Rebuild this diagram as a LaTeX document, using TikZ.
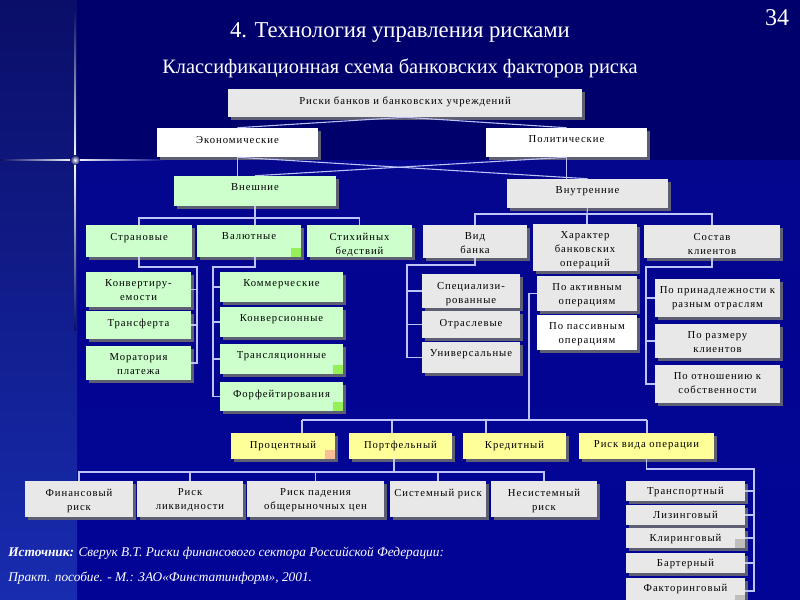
\documentclass[tikz,border=0pt]{standalone}
\usepackage{fontspec}
\setmainfont{Liberation Serif}
\newfontfamily\boxfont[LetterSpace=9]{Liberation Serif}
\usetikzlibrary{calc,fit,shadows}
\definecolor{fonTop}  {RGB}{0,  0,108}
\definecolor{fonLow}  {RGB}{4,  6,142}
\definecolor{fonLowB} {RGB}{2,  4,150}
\definecolor{fonLeft} {RGB}{10, 14,104}
\definecolor{fonLeftB}{RGB}{24, 44,176}
\definecolor{boxGray} {RGB}{232,232,232}
\definecolor{boxGreen}{RGB}{204,255,204}
\definecolor{boxYell} {RGB}{255,255,153}
\definecolor{lnkCol}  {RGB}{190,196,250}
\definecolor{shadCol} {RGB}{95, 95,115}
\definecolor{sqGreen} {RGB}{150,240, 90}
\definecolor{sqSalmon}{RGB}{250,190,150}
\definecolor{sqGray}  {RGB}{190,190,190}

\begin{document}
\begin{tikzpicture}[x=0.75pt, y=-0.75pt,
  box/.style={fill=boxGray, inner sep=0pt,
    drop shadow={shadow xshift=2.2pt, shadow yshift=-2.2pt, fill=shadCol, opacity=1}},
  gbox/.style={box, fill=boxGreen},
  wbox/.style={box, fill=white},
  ybox/.style={box, fill=boxYell},
  lbl/.style={anchor=north, yshift=-6pt, inner sep=0pt, align=center, text=black,
    font=\boxfont\fontsize{8}{10.5}\selectfont},
  sq/.style={inner sep=0pt, minimum width=7.5pt, minimum height=6.8pt, anchor=south east},
  lnk/.style={draw=lnkCol, line width=0.8pt},
  src/.style={white, anchor=west, inner sep=0pt, font=\itshape\fontsize{10}{12}\selectfont}]
\useasboundingbox (0,0) rectangle (800,600);
\clip (0,0) rectangle (800,600);
% background and flare
\shade[top color=fonLow, bottom color=fonLowB] (0,160) rectangle (800,600);
\fill[fonTop] (0,0) rectangle (800,160);
\shade[top color=fonLeft, bottom color=fonLeftB] (0,0) rectangle (77,600);
\shade[left color=fonLeft, right color=white] (0,159.2) rectangle (75,160.8);
\shade[left color=white, right color=fonLow] (75,159.2) rectangle (165,160.8);
\shade[top color=fonLeft, bottom color=white] (74.2,10) rectangle (75.8,160);
\shade[top color=white, bottom color=fonLeft] (74.2,160) rectangle (75.8,330);
\shade[inner color=white, outer color=fonLeft] (75,160) circle (5);

% titles
\node[white, font=\fontsize{17}{20}\selectfont] (title) at (400,32) {4. Технология управления рисками};
\node[white, font=\fontsize{15.3}{18}\selectfont] (subtitle) at (400,68) {Классификационная схема банковских факторов риска};
\node[white, font=\fontsize{18}{20}\selectfont] (page) at (777,18) {34};

% levels 1-2
\node[box,  fit={(228,89) (582,117)}, label={[lbl]north:Риски банков и банковских учреждений}] (root) {};
\node[wbox, fit={(157,128) (318,157)}, label={[lbl]north:Экономические}] (econ) {};
\node[wbox, fit={(486,128) (647,157)}, label={[lbl]north:Политические}] (polit) {};
\node[gbox, fit={(174,176) (336,206)}, label={[lbl]north:Внешние}] (vnesh) {};
\node[box,  fit={(507,179) (668,208)}, label={[lbl]north:Внутренние}] (vnutr) {};

% external factors
\node[gbox, fit={(86,225) (192,257)}, label={[lbl]north:Страновые}] (stran) {};
\node[gbox, fit={(197,225) (301,257)}, label={[lbl]north:Валютные}] (valut) {};
\node[gbox, fit={(307,225) (412,257)}, label={[lbl]north:Стихийных\\бедствий}] (stih) {};
\node[gbox, fit={(86,272) (191,307)}, label={[lbl]north:Конвертиру-\\емости}] (konv) {};
\node[gbox, fit={(86,311) (191,339)}, label={[lbl]north:Трансферта}] (transf) {};
\node[gbox, fit={(86,346) (191,380)}, label={[lbl]north:Моратория\\платежа}] (morat) {};
\node[gbox, fit={(220,272) (343,302)}, label={[lbl]north:Коммерческие}] (komm) {};
\node[gbox, fit={(220,307) (343,337)}, label={[lbl]north:Конверсионные}] (konvers) {};
\node[gbox, fit={(220,344) (343,374)}, label={[lbl]north:Трансляционные}] (transl) {};
\node[gbox, fit={(220,382) (343,411)}, label={[lbl]north:Форфейтирования}] (forf) {};

% internal factors
\node[box, fit={(423,225) (527,258)}, label={[lbl]north:Вид\\банка}] (vid) {};
\node[box, fit={(533,224) (637,271)}, label={[lbl]north:Характер\\банковских\\операций}] (xar) {};
\node[box, fit={(644,225) (780,258)}, label={[lbl]north:Состав\\клиентов}] (sostav) {};
\node[box, fit={(422,274) (520,308)}, label={[lbl]north:Специализи-\\рованные}] (spec) {};
\node[box, fit={(422,311) (520,338)}, label={[lbl]north:Отраслевые}] (otr) {};
\node[box, fit={(422,342) (520,373)}, label={[lbl]north:Универсальные}] (univ) {};
\node[box,  fit={(537,276) (637,311)}, label={[lbl]north:По активным\\операциям}] (aktiv) {};
\node[wbox, fit={(537,315) (637,350)}, label={[lbl]north:По пассивным\\операциям}] (passiv) {};
\node[box, fit={(655,279) (780,317)}, label={[lbl]north:По принадлежности к\\разным отраслям}] (prin) {};
\node[box, fit={(655,324) (780,358)}, label={[lbl]north:По размеру\\клиентов}] (razm) {};
\node[box, fit={(655,365) (780,403)}, label={[lbl]north:По отношению к\\собственности}] (otn) {};

% risk types
\node[ybox, fit={(231,433) (335,459)}, label={[lbl]north:Процентный}] (proc) {};
\node[ybox, fit={(349,433) (452,459)}, label={[lbl]north:Портфельный}] (port) {};
\node[ybox, fit={(463,433) (566,459)}, label={[lbl]north:Кредитный}] (kred) {};
\node[ybox, fit={(579,433) (714,459)}, label={[lbl]north:Риск вида операции}] (vida) {};
\node[box, fit={(25,481) (133,517)}, label={[lbl]north:Финансовый\\риск}] (fin) {};
\node[box, fit={(137,481) (243,517)}, label={[lbl]north:Риск\\ликвидности}] (likv) {};
\node[box, fit={(247,481) (384,517)}, label={[lbl]north:Риск падения\\общерыночных цен}] (pad) {};
\node[box, fit={(390,481) (486,517)}, label={[lbl]north:Системный риск}] (sist) {};
\node[box, fit={(491,481) (597,517)}, label={[lbl]north:Несистемный\\риск}] (nesist) {};
\node[box, fit={(626,481) (745,501)}, label={[lbl,yshift=1.5pt]north:Транспортный}] (transp) {};
\node[box, fit={(626,505) (745,525)}, label={[lbl,yshift=1.5pt]north:Лизинговый}] (lizing) {};
\node[box, fit={(626,528) (745,548)}, label={[lbl,yshift=1.5pt]north:Клиринговый}] (kliring) {};
\node[box, fit={(626,553) (745,573)}, label={[lbl,yshift=1.5pt]north:Бартерный}] (barter) {};
\node[box, fit={(626,578) (745,604)}, label={[lbl,yshift=1.5pt]north:Факторинговый}] (faktor) {};

% small corner squares
\node[sq, fill=sqGreen] (valut-sq) at (valut.south east) {};
\node[sq, fill=sqGreen] (transl-sq) at (transl.south east) {};
\node[sq, fill=sqGreen] (forf-sq) at (forf.south east) {};
\node[sq, fill=sqSalmon] (proc-sq) at (proc.south east) {};
\node[sq, fill=sqGray] (kliring-sq) at (kliring.south east) {};
\node[sq, fill=sqGray] (faktor-sq) at (faktor.south east) {};

% bus points
\coordinate (vbus) at (255,218);
\coordinate (sbus) at (197,267);
\coordinate (kbus) at (213,267);
\coordinate (ibus) at (587,214);
\coordinate (dbus) at (407,265);
\coordinate (cbus) at (646,267);
\coordinate (lbus) at (529,420);
\coordinate (lb1) at (302,420);
\coordinate (lb2) at (392,420);
\coordinate (lb3) at (486,420);
\coordinate (lb4) at (647,420);
\coordinate (pbus) at (394,472);
\coordinate (obus) at (754,469);

% connectors
\draw[lnk] (root.south) -- (econ.north);
\draw[lnk] (root.south) -- (polit.north);
\draw[lnk] (econ.south) -- (econ.south |- vnesh.north);
\draw[lnk] (polit.south) -- (polit.south |- vnutr.north);
\draw[lnk] (econ.south) -- (vnutr.north);
\draw[lnk] (polit.south) -- (vnesh.north);

\draw[lnk] (vnesh.south) -- (vbus);
\draw[lnk] (stran.north) |- (vbus) -| (stih.north);
\draw[lnk] (vbus) -- (vbus |- valut.north);
\draw[lnk] (stran.south) |- (sbus) |- (morat.east);
\draw[lnk] (konv.east) -- (konv.east -| sbus);
\draw[lnk] (transf.east) -- (transf.east -| sbus);
\draw[lnk] (valut.south -| vbus) |- (kbus) |- (forf.west);
\draw[lnk] (komm.west) -- (komm.west -| kbus);
\draw[lnk] (konvers.west) -- (konvers.west -| kbus);
\draw[lnk] (transl.west) -- (transl.west -| kbus);

\draw[lnk] (vnutr.south) -- (ibus);
\draw[lnk] (vid.north) |- (ibus) -| (sostav.north);
\draw[lnk] (ibus) -- (ibus |- xar.north);
\draw[lnk] (vid.south) |- (dbus) |- (univ.west);
\draw[lnk] (spec.west) -- (spec.west -| dbus);
\draw[lnk] (otr.west) -- (otr.west -| dbus);
\draw[lnk] (sostav.south) |- (cbus) |- (otn.west);
\draw[lnk] (prin.west) -- (prin.west -| cbus);
\draw[lnk] (razm.west) -- (razm.west -| cbus);

\draw[lnk] (aktiv.west) -| (lbus);
\draw[lnk] (lb1) -- (lb4);
\draw[lnk] (lb1) -- (lb1 |- proc.north);
\draw[lnk] (lb2) -- (lb2 |- port.north);
\draw[lnk] (lb3) -- (lb3 |- kred.north);
\draw[lnk] (lb4) -- (lb4 |- vida.north);

\draw[lnk] (port.south -| pbus) -- (pbus);
\draw[lnk] (fin.north) |- (pbus) -| (nesist.north);
\draw[lnk] (likv.north) -- (likv.north |- pbus);
\draw[lnk] (pad.north) -- (pad.north |- pbus);
\draw[lnk] (sist.north) -- (sist.north |- pbus);

\draw[lnk] (vida.south) |- (obus) |- (faktor.east);
\draw[lnk] (transp.east) -- (transp.east -| obus);
\draw[lnk] (lizing.east) -- (lizing.east -| obus);
\draw[lnk] (kliring.east) -- (kliring.east -| obus);
\draw[lnk] (barter.east) -- (barter.east -| obus);

% source
\node[src] (src1) at (8,553) {\textbf{Источник:} Сверук В.Т. Риски финансового сектора Российской Федерации:};
\node[src] (src2) at (8,578) {Практ. пособие. - М.: ЗАО«Финстатинформ», 2001.};
\end{tikzpicture}
\end{document}
